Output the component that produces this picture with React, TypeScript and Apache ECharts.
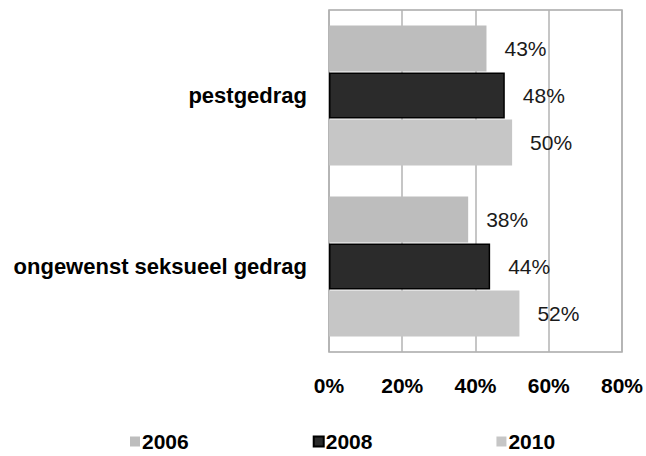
import React, { useEffect, useRef } from "react";
import * as echarts from "echarts";

const categories = ["pestgedrag", "ongewenst seksueel gedrag"];
const seriesNames = ["2006", "2008", "2010"];
const values2006 = [43, 38];
const values2008 = [48, 44];
const values2010 = [50, 52];
const xTicks = [0, 20, 40, 60, 80];

const colors = ["#bdbdbd", "#2b2b2b", "#c6c6c6"];

export default function App() {
  const ref = useRef<HTMLDivElement>(null);
  useEffect(() => {
    if (!ref.current) return;
    const chart = echarts.init(ref.current, undefined, { renderer: "svg" });
    const data = [values2006, values2008, values2010];
    const font = "'Liberation Sans', Arial, sans-serif";
    chart.setOption({
      animation: false,
      backgroundColor: "#ffffff",
      grid: {
        left: 329,
        right: 21,
        top: 10,
        bottom: 104,
        show: true,
        borderColor: "#a8a8a8",
        borderWidth: 1.5,
        backgroundColor: "transparent",
      },
      legend: {
        top: 426,
        left: 125,
        itemGap: 124,
        itemWidth: 10,
        itemHeight: 10,
        icon: "rect",
        textStyle: { fontFamily: font, fontWeight: "bold", fontSize: 21, color: "#000", padding: [0, 0, 0, -3] },
        data: seriesNames,
      },
      xAxis: {
        type: "value",
        min: xTicks[0],
        max: xTicks[xTicks.length - 1],
        interval: 20,
        axisLine: { show: false },
        axisTick: { show: false },
        splitLine: { show: true, lineStyle: { color: "#b3b3b3", width: 1.5 } },
        axisLabel: {
          formatter: "{value}%",
          fontFamily: font,
          fontWeight: "bold",
          fontSize: 21,
          color: "#000",
          margin: 23,
        },
      },
      yAxis: {
        type: "category",
        data: categories,
        inverse: true,
        axisLine: { show: false },
        axisTick: { show: false },
        axisLabel: {
          fontFamily: font,
          fontWeight: "bold",
          fontSize: 22,
          color: "#000",
          margin: 22,
        },
      },
      series: seriesNames.map((name, i) => ({
        name,
        type: "bar",
        data: data[i],
        barWidth: 46,
        barGap: "2%",
        itemStyle: {
          color: colors[i],
          borderColor: i === 1 ? "#000" : colors[i],
          borderWidth: i === 1 ? 1.5 : 0,
        },
        label: {
          show: true,
          position: "right",
          distance: 18,
          formatter: "{c}%",
          fontFamily: font,
          fontSize: 21,
          color: "#1a1a1a",
        },
      })),
    });
    return () => chart.dispose();
  }, []);
  return <div ref={ref} style={{ position: "fixed", left: 0, top: 0, width: 646, height: 456 }} />;
}
